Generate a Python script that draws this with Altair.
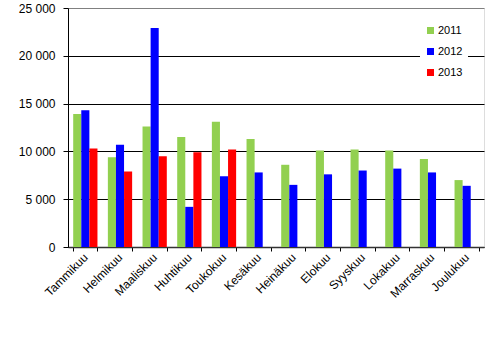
import altair as alt
import pandas as pd

months = ["Tammikuu", "Helmikuu", "Maaliskuu", "Huhtikuu", "Toukokuu", "Kesäkuu",
          "Heinäkuu", "Elokuu", "Syyskuu", "Lokakuu", "Marraskuu", "Joulukuu"]
years = ["2011", "2012", "2013"]
v2011 = [13900, 9400, 12600, 11500, 13100, 11300, 8600, 10100, 10200, 10100, 9200, 7000]
v2012 = [14300, 10700, 22900, 4200, 7400, 7800, 6500, 7600, 8000, 8200, 7800, 6400]
v2013 = [10300, 7900, 9500, 9900, 10200]
colors = ["#92D050", "#0000FF", "#FF0000"]

rows = []
for series, yr in ((v2011, "2011"), (v2012, "2012"), (v2013, "2013")):
    for m, v in zip(months, series):
        rows.append({"kuukausi": m, "vuosi": yr, "arvo": v})
df = pd.DataFrame(rows)

FONT = "Liberation Sans"

chart = alt.Chart(df).mark_bar().encode(
    x=alt.X("kuukausi:N", sort=months, title=None,
            scale=alt.Scale(paddingInner=0.3, paddingOuter=0.15),
            axis=alt.Axis(labelAngle=-45, labelAlign="right", labelBaseline="middle",
                          labelFont=FONT, labelFontSize=12, labelColor="black",
                          labelPadding=4, tickBand="extent", tickColor="black",
                          tickSize=4, domainColor="#333333", domainWidth=1.5,
                          grid=False, labelOverlap=False)),
    xOffset=alt.XOffset("vuosi:N", sort=years, scale=alt.Scale(domain=years, paddingInner=0, paddingOuter=0)),
    y=alt.Y("arvo:Q", title=None,
            scale=alt.Scale(domain=[0, 25000], nice=False),
            axis=alt.Axis(values=[0, 5000, 10000, 15000, 20000, 25000],
                          labelExpr="replace(format(datum.value, ','), ',', ' ')",
                          labelFont=FONT, labelFontSize=12, labelColor="black",
                          labelPadding=8, tickSize=5, tickColor="black",
                          domainColor="black",
                          gridColor={"condition": {"test": "datum.value == 25000", "value": "#808080"}, "value": "black"},
                          gridOpacity=1)),
    color=alt.Color("vuosi:N", sort=years,
                    scale=alt.Scale(domain=years, range=colors),
                    legend=alt.Legend(title=None, orient="none", legendX=352, legendY=12,
                                      fillColor="white", padding=5, symbolType="square",
                                      symbolSize=49, symbolStrokeWidth=0, symbolOpacity=1,
                                      labelFont=FONT, labelFontSize=11, labelColor="black",
                                      labelOffset=2, rowPadding=9)),
).properties(
    width=416, height=239,
    autosize=alt.AutoSizeParams(type="none"),
    padding={"left": 68, "top": 8, "right": 14, "bottom": 93},
).configure_view(
    stroke="#808080", strokeWidth=1
).configure(background="white")

chart.save("out.html", embed_options={"renderer": "svg", "actions": False})
